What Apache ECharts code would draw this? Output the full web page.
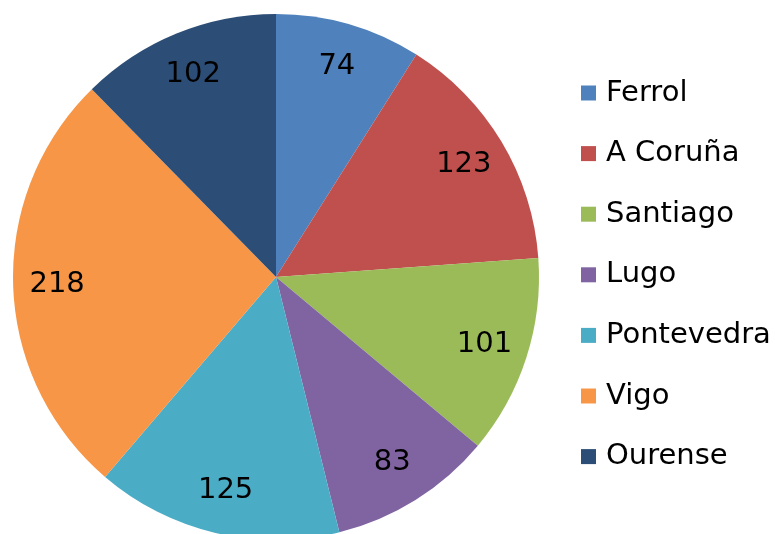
<!DOCTYPE html>
<html><head><meta charset="utf-8">
<script src="https://cdn.jsdelivr.net/npm/echarts@6/dist/echarts.min.js"></script>
<style>html,body{margin:0;padding:0;background:#fff}#c{width:775px;height:534px}</style>
</head><body><div id="c"></div>
<script>
const categories = ["Ferrol","A Coruña","Santiago","Lugo","Pontevedra","Vigo","Ourense"];
const values = [74,123,101,83,125,218,102];
const colors = ["#4F81BD","#C0504D","#9BBB59","#8064A2","#4BACC6","#F79646","#2C4D75"];
const FONT = "DejaVu Sans";
const data = categories.map((n,i)=>({name:n,value:values[i],itemStyle:{color:colors[i]}}));
const chart = echarts.init(document.getElementById('c'));
chart.setOption({
  animation:false,
  legend:{
    orient:'vertical', left:581, top:78, padding:0,
    itemWidth:15, itemHeight:15, itemGap:30.6,
    icon:'rect',
    textStyle:{fontFamily:FONT,fontSize:29,color:'#000',lineHeight:30,padding:[0,0,0,5]},
    data:categories
  },
  series:[
    {type:'pie',center:[276,277],radius:[0,263],startAngle:90,clockwise:true,
     label:{show:false},labelLine:{show:false},silent:true,
     itemStyle:{borderWidth:0},data:data},
    {type:'pie',center:[276,277],radius:[169,263],startAngle:90,clockwise:true,
     silent:true,legendHoverLink:false,
     itemStyle:{color:'rgba(0,0,0,0)'},
     label:{show:true,position:'inside',formatter:'{c}',fontFamily:FONT,fontSize:29,color:'#000'},
     labelLine:{show:false},
     data:categories.map((n,i)=>({name:n+' ',value:values[i]}))}
  ]
});
</script></body></html>
